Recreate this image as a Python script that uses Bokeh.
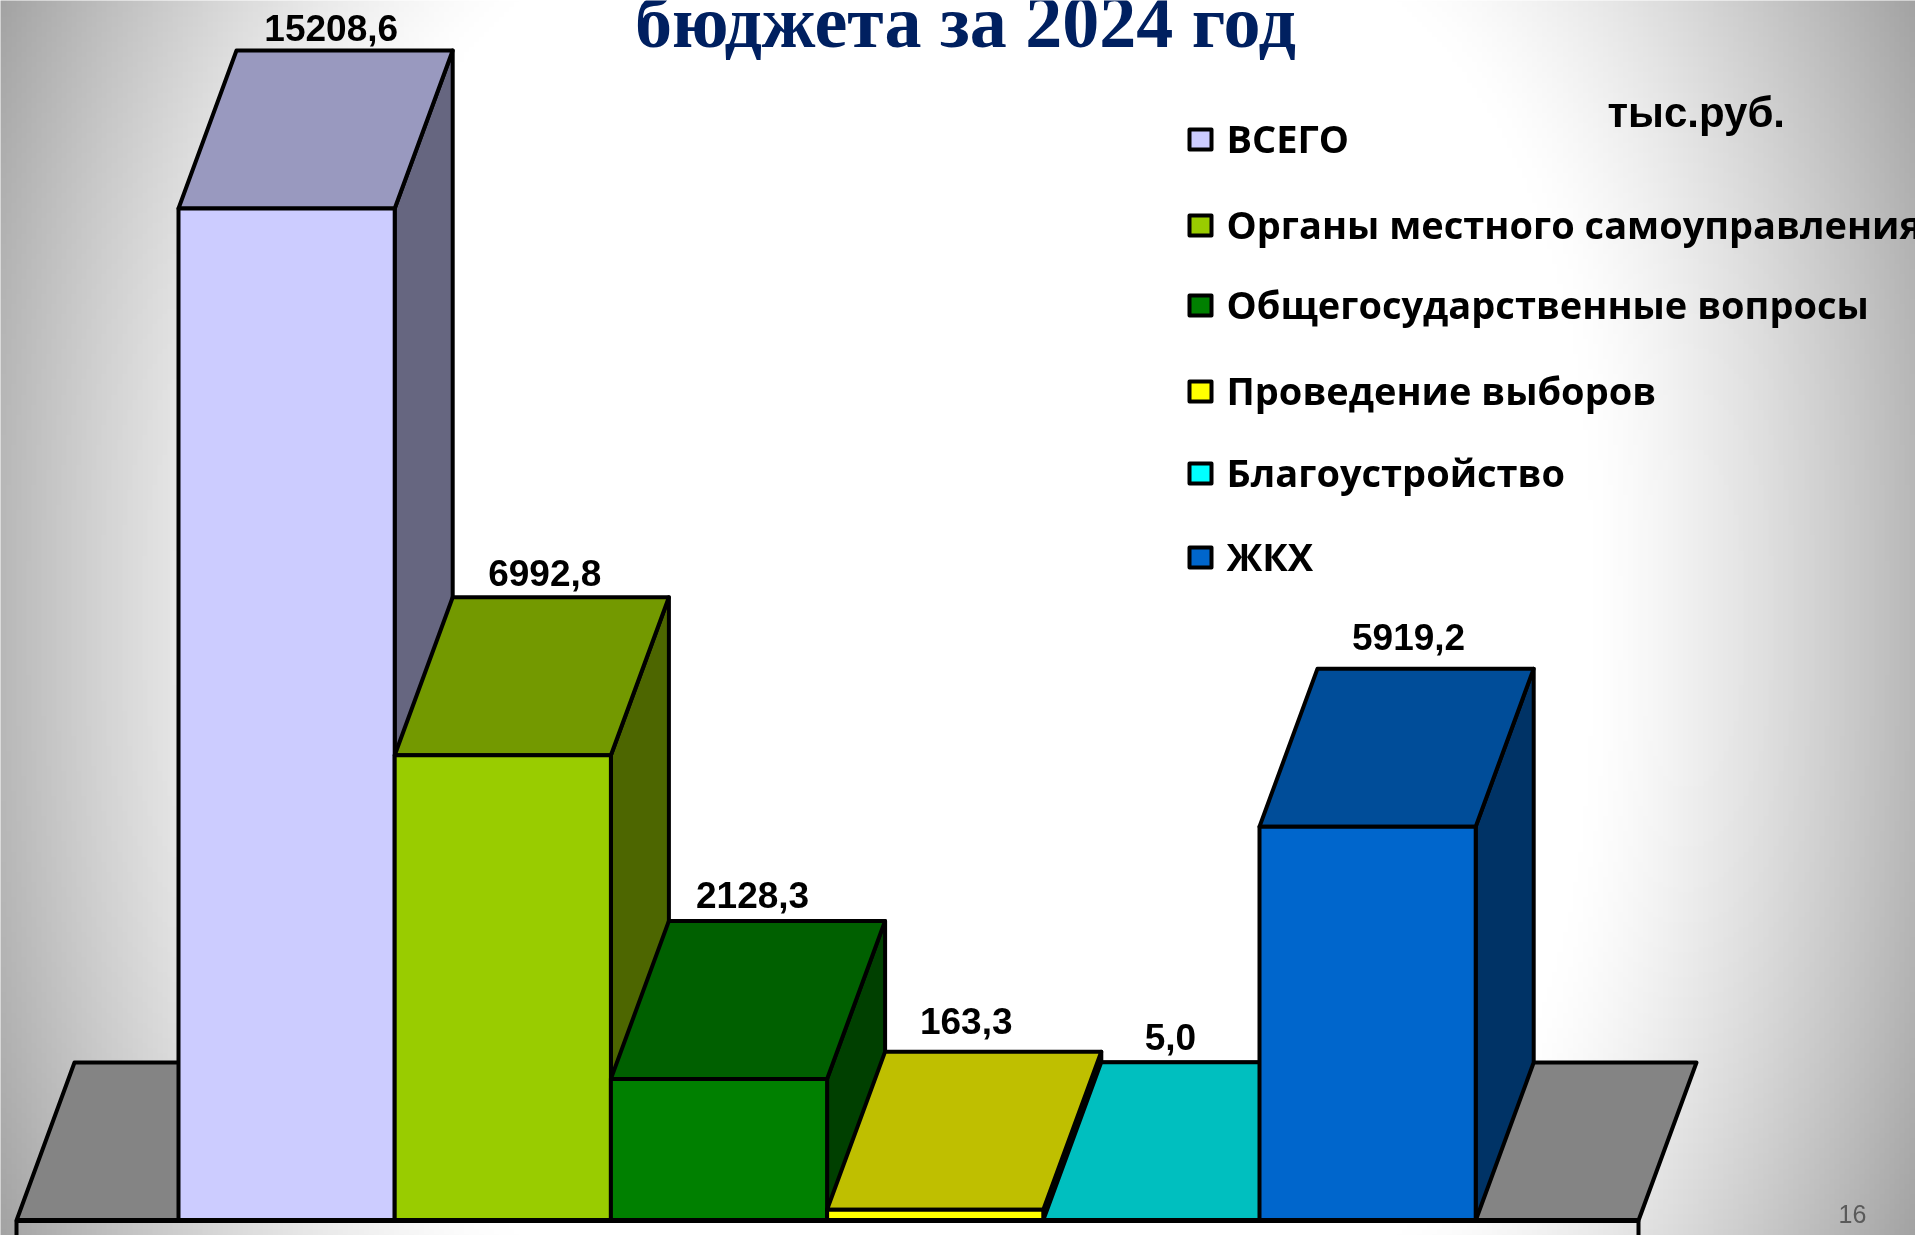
import numpy as np
from bokeh.core.properties import value
from bokeh.embed import file_html
from bokeh.models import Range1d
from bokeh.plotting import figure
from bokeh.resources import INLINE

# --- data
categories = ["ВСЕГО", "Органы местного самоуправления", "Общегосударственные вопросы",
              "Проведение выборов", "Благоустройство", "ЖКХ"]
amounts = [15208.6, 6992.8, 2128.3, 163.3, 5.0, 5919.2]
amount_labels = ["15208,6", "6992,8", "2128,3", "163,3", "5,0", "5919,2"]
front_colors = ["#CCCCFF", "#99CC00", "#008000", "#FFFF00", "#00FFFF", "#0066CC"]
top_colors = ["#9999BF", "#739900", "#006000", "#BFBF00", "#00BFBF", "#004D99"]
side_colors = ["#666680", "#4D6600", "#004000", "#808000", "#008080", "#003366"]
title_text = "бюджета за 2024 год"
unit_text = "тыс.руб."
page_number = "16"

# --- layout (pixels of the 1915x1235 page)
W, H = 1915, 1235
BASE_Y, BAR_L, BAR_W = 1220.0, 178.0, 216.2
PX_PER_UNIT = 0.06654
DX, DY = 58.0 / BAR_W, 158.0 / PX_PER_UNIT
legend_ys = [139, 225, 305, 391, 473, 557]
label_gap = [8.5, 10.5, 12.5, 16.5, 11.5, 17.5]
label_dx = [44.6, 42.0, 33.6, 31.0, 19.0, 41.0]
BASE_FIX = 0.37


def fx(px):
    return (px - BAR_L) / BAR_W


def fy(py):
    return (BASE_Y - py) / PX_PER_UNIT


def text_at(px, baseline_py, s, font, size, color="black", style="bold", align="left"):
    p.text([fx(px)], [fy(baseline_py - BASE_FIX * size)], text=[s], text_font=value(font),
           text_font_style=style, text_font_size=f"{size}px", text_color=color,
           text_align=align, text_baseline="alphabetic")


p = figure(width=W, height=H, x_range=Range1d(fx(0), fx(W)), y_range=Range1d(fy(H), fy(0)),
           output_backend="svg", toolbar_location=None, min_border=0,
           outline_line_color=None, x_axis_type=None, y_axis_type=None)
p.grid.visible = False
p.styles = {"position": "fixed", "left": "0", "top": "0"}

# --- slide background: grey corners/edges fading to a white middle
nx, ny = 383, 247
gx, gy = np.meshgrid((np.arange(nx) + .5) / nx * W, (np.arange(ny) + .5) / ny * H)
u = np.abs(gx - W / 2) / (W / 2)
v = np.abs(gy - H * .5) / (H * .5)
r = (u ** 2.6 + (0.55 * v) ** 2.6) ** (1 / 2.6)
t = np.clip((r - 0.66) / (1.08 - 0.66), 0, 1) ** 1.3
g = (255 - t * 95).astype(np.uint32)
img = (255 << 24) | (g << 16) | (g << 8) | g
p.image_rgba(image=[img[::-1].astype(np.uint32)], x=[fx(-4)], y=[fy(H + 4)],
             dw=[fx(W + 4) - fx(-4)], dh=[fy(-4) - fy(H + 4)])

# --- floor
OUT = dict(line_color="black", line_width=4, line_join="round")
FL, FR = 16, 1638
p.patch([fx(FL), fx(FL) + DX, fx(FR) + DX, fx(FR)], [0, DY, DY, 0], fill_color="#848484", **OUT)
p.line([fx(FL), fx(FL)], [fy(H), 0], line_color="black", line_width=4)
p.line([fx(FR), fx(FR)], [fy(H), 0], line_color="black", line_width=4)

# --- bars, left to right
for i, val in enumerate(amounts):
    l, rr = float(i), float(i + 1)
    p.patch([rr, rr + DX, rr + DX, rr], [0, DY, val + DY, val], fill_color=side_colors[i], **OUT)
    p.patch([l, l + DX, rr + DX, rr], [val, val + DY, val + DY, val], fill_color=top_colors[i], **OUT)
    p.patch([l, rr, rr, l], [0, 0, val, val], fill_color=front_colors[i], **OUT)
    p.text([i + .5 + label_dx[i] / BAR_W], [val + DY + (label_gap[i] + BASE_FIX * 37) / PX_PER_UNIT],
           text=[amount_labels[i]], text_font=value("Liberation Sans"), text_font_style="bold",
           text_font_size="37px", text_color="black", text_align="center", text_baseline="alphabetic")
p.line([fx(FL), fx(FR)], [0, 0], line_color="black", line_width=5)

# --- legend
for name, col, ly in zip(categories, front_colors, legend_ys):
    p.patch([fx(1189), fx(1211), fx(1211), fx(1189)], [fy(ly + 10), fy(ly + 10), fy(ly - 10), fy(ly - 10)],
            fill_color=col, line_color="black", line_width=4, line_join="round")
    text_at(1226, ly + 13, name, "Open Sans", 38)

# --- other texts
text_at(965, 49, title_text, "Liberation Serif", 74, color="#002060", align="center")
text_at(1607, 128, unit_text, "Liberation Sans", 42)
text_at(1838, 1223, page_number, "Liberation Sans", 25, color="#5A5A5A", style="normal")

open("out.html", "w").write(file_html(p, INLINE))
